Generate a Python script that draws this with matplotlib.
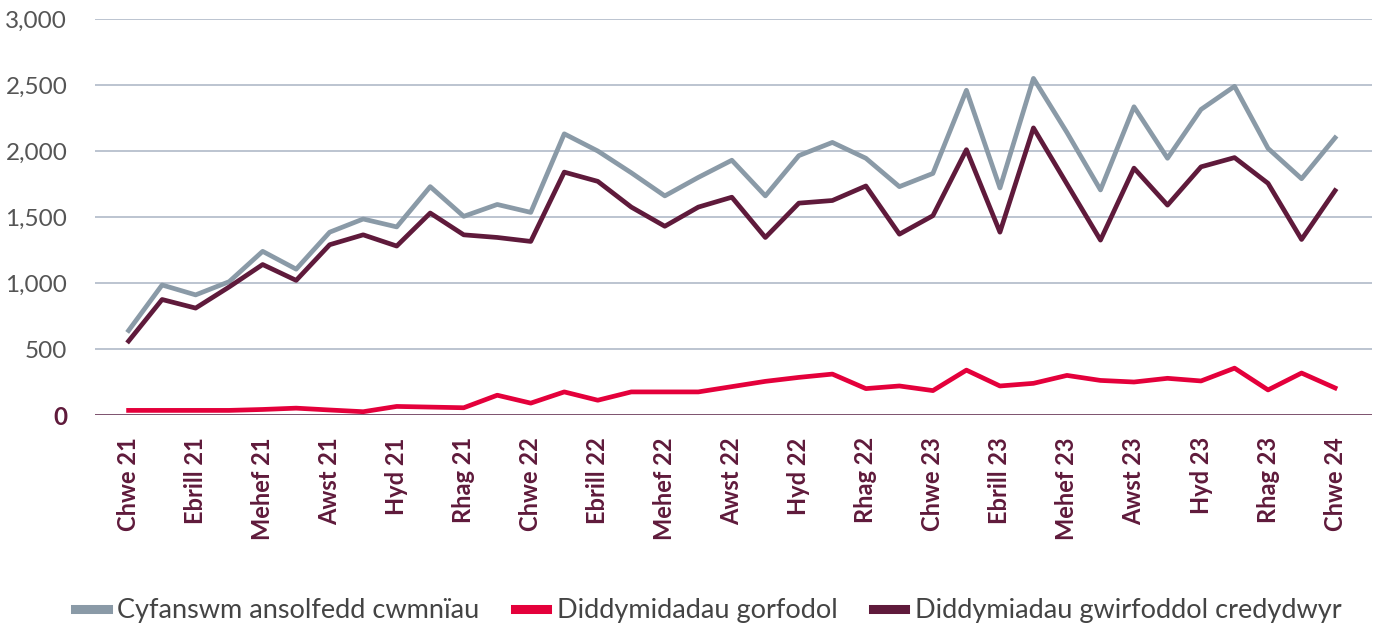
# Ansolfedd cwmnïau yng Nghymru a Lloegr: Chwefror 2021 - Chwefror 2024

import numpy as np
from matplotlib import pyplot as plt

plt.rcParams['font.family'] = ['Lato', 'DejaVu Sans']

months = ['Chwe 21', 'Maw 21', 'Ebrill 21', 'Mai 21', 'Mehef 21', 'Gorff 21',
          'Awst 21', 'Medi 21', 'Hyd 21', 'Tach 21', 'Rhag 21', 'Ion 22',
          'Chwe 22', 'Maw 22', 'Ebrill 22', 'Mai 22', 'Mehef 22', 'Gorff 22',
          'Awst 22', 'Medi 22', 'Hyd 22', 'Tach 22', 'Rhag 22', 'Ion 23',
          'Chwe 23', 'Maw 23', 'Ebrill 23', 'Mai 23', 'Mehef 23', 'Gorff 23',
          'Awst 23', 'Medi 23', 'Hyd 23', 'Tach 23', 'Rhag 23', 'Ion 24',
          'Chwe 24']

total = [640, 985, 910, 1010, 1240, 1105, 1385, 1485, 1425, 1730, 1505, 1595,
         1535, 2130, 2000, 1835, 1660, 1800, 1930, 1660, 1965, 2065, 1945, 1730,
         1830, 2460, 1720, 2550, 2140, 1705, 2335, 1945, 2315, 2490, 2020, 1790,
         2100]
compulsory = [35, 35, 35, 35, 42, 52, 38, 25, 65, 60, 55, 150,
              90, 175, 112, 175, 175, 175, 215, 255, 285, 310, 200, 220,
              185, 340, 220, 240, 300, 262, 250, 278, 258, 355, 190, 318,
              205]
creditors = [560, 875, 810, 970, 1140, 1020, 1290, 1365, 1280, 1530, 1365, 1345,
             1315, 1840, 1770, 1575, 1430, 1575, 1650, 1345, 1605, 1625, 1735, 1370,
             1510, 2010, 1385, 2175, 1750, 1325, 1870, 1590, 1880, 1950, 1755, 1330,
             1700]

grey = '#8a9aa7'
red = '#e4003b'
wine = '#5f1a3b'

x = np.arange(len(months))

fig = plt.figure(figsize=(13.78, 6.29), dpi=100)
ax = fig.add_axes([0.069, 0.3402, 0.9266, 0.6296])

ax.plot(x, total, color=grey, lw=3.4, label='Cyfanswm ansolfedd cwmnïau', zorder=3)
ax.plot(x, compulsory, color=red, lw=3.4, label='Diddymidadau gorfodol', zorder=3)
ax.plot(x, creditors, color=wine, lw=3.4, label='Diddymiadau gwirfoddol credydwyr', zorder=3)

ax.set_ylim(0, 3000)
ax.set_xlim(-1.0, 37.1)
ax.set_yticks(np.arange(0, 3001, 500))
ax.set_yticklabels([f'{v:,}' for v in range(0, 3001, 500)])
ax.grid(axis='y', color='#a9b4c4', lw=1.1)
ax.axhline(0, color='#7a4b67', lw=1.3, zorder=2)

ax.set_xticks(x[::2])
ax.set_xticklabels(months[::2], rotation=90, fontsize=17, fontweight='bold', color=wine)

for s in ax.spines.values():
    s.set_visible(False)
ax.tick_params(axis='both', length=0)
ax.tick_params(axis='y', labelsize=17.5, colors='#555555', pad=20)
ax.tick_params(axis='x', pad=16)
ylabs = ax.get_yticklabels()
ylabs[0].set_fontweight('bold')
ylabs[0].set_color(wine)

leg = fig.legend(loc='lower center', bbox_to_anchor=(0.514, -0.03), ncol=3,
                 frameon=False, fontsize=19.5, handlelength=1.2, handletextpad=0.35,
                 columnspacing=1.3)
for t in leg.get_texts():
    t.set_color('#444444')
for h in leg.get_lines():
    h.set_linewidth(6.5)

fig.savefig('out.png', dpi=100)
